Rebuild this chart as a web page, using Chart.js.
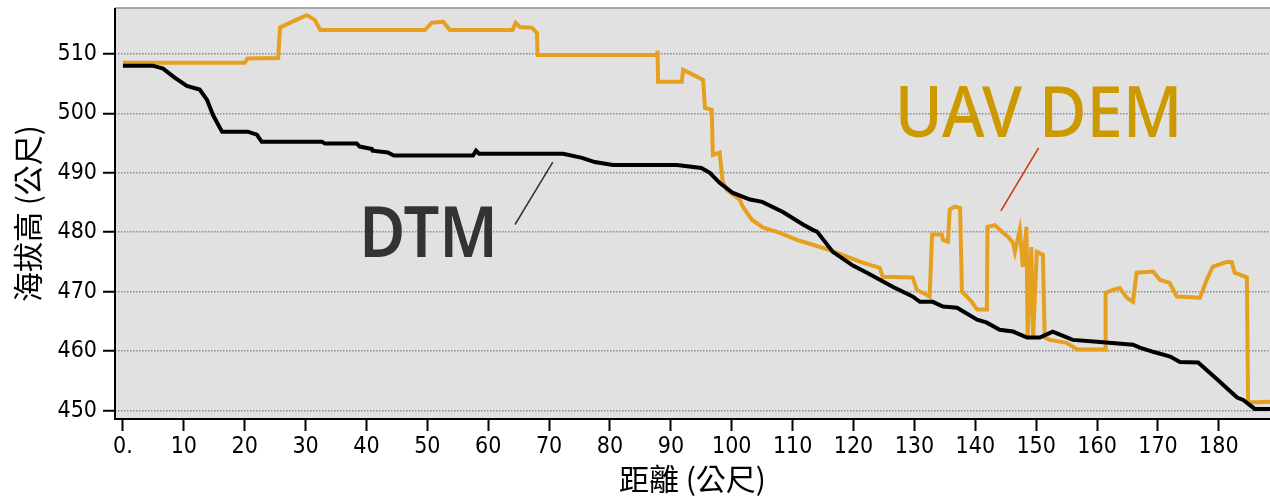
<!DOCTYPE html>
<html>
<head>
<meta charset="utf-8">
<script src="https://cdn.jsdelivr.net/npm/chart.js@4"></script>
<style>
  html, body { margin: 0; padding: 0; background: #fff; }
  #wrap { width: 1270px; height: 497px; }
</style>
</head>
<body>
<div id="wrap"><canvas id="profile"></canvas></div>
<script>
// distance (m), elevation (m)
const dtmProfile = [
  [0, 508], [4.9, 508], [6.6, 507.5], [8.5, 506], [10.5, 504.6], [12.6, 504], [13.8, 502.3],
  [14.8, 499.7], [15.9, 497.6], [16.3, 496.9], [20.5, 496.9], [22, 496.4], [22.8, 495.2],
  [32.7, 495.2], [33.2, 494.9], [38.4, 494.9], [38.9, 494.4], [40.9, 494], [41, 493.7],
  [43.5, 493.4], [44.5, 492.9], [57.5, 492.9], [58, 493.7], [58.5, 493.2], [72.3, 493.2],
  [75.4, 492.5], [77.5, 491.8], [80.5, 491.3], [91, 491.3], [95, 490.8], [96.4, 490],
  [98, 488.3], [100.2, 486.6], [103, 485.5], [105, 485.1], [108.4, 483.4], [111.7, 481.3],
  [113.3, 480.4], [114, 480.1], [116.6, 476.7], [119.9, 474.4], [122.2, 473.2], [126.5, 470.8],
  [129.7, 469.2], [130.9, 468.3], [133, 468.3], [134.7, 467.5], [137, 467.3], [140.3, 465.3],
  [141.9, 464.8], [144, 463.6], [146.2, 463.3], [148.5, 462.3], [150.6, 462.3], [152.7, 463.3],
  [153.9, 462.8], [156, 461.9], [160, 461.6], [165.9, 461.1], [167, 460.6], [169.2, 459.9],
  [172, 459.1], [173.6, 458.2], [176.6, 458.1], [179.7, 455.3], [183, 452.2], [184, 451.8],
  [185.9, 450.3], [188.4, 450.3]
];

const uavProfile = [
  [0, 508.5], [20, 508.5], [20.5, 509.2], [25.5, 509.3], [25.8, 514.4], [27.4, 515.2],
  [29.1, 516], [30.2, 516.5], [31.5, 515.7], [32.4, 514], [49.6, 514], [50.7, 515.2],
  [52.6, 515.4], [53.7, 514], [64, 514], [64.5, 515.2], [65.2, 514.5], [67.2, 514.4],
  [68, 513.5], [68.1, 509.8], [87.7, 509.8], [87.8, 510.5], [87.9, 505.3], [91.8, 505.3],
  [92, 507.3], [93.6, 506.5], [95.3, 505.6], [95.6, 500.9], [96.7, 500.6], [96.9, 493],
  [98, 493.4], [98.5, 488.5], [99.2, 487.1], [101.3, 485.5], [101.8, 484.3], [103.3, 482.1],
  [105.1, 480.8], [107.9, 479.9], [110.7, 478.7], [113.3, 477.9], [116.1, 477], [118.9, 475.9],
  [121.5, 474.9], [124.3, 474], [124.8, 472.5], [129.7, 472.4], [130.4, 470.3], [132, 469.5],
  [132.5, 469.2], [132.9, 479.6], [134.5, 479.6], [134.7, 478.7], [135.5, 478.4], [135.8, 483.8],
  [136.6, 484.3], [137.5, 484.1], [137.8, 470], [138.6, 469.2], [139.4, 468.3], [140.3, 467],
  [141.9, 467], [142, 480.9], [143.2, 481.2], [144.4, 480.1], [145.4, 479.2], [146.2, 478.2],
  [146.5, 476.7], [147.3, 480.4], [147.8, 474.2], [148.4, 480.9], [148.6, 462.4], [149.2, 477.5],
  [149.5, 462.4], [150.1, 476.7], [151.1, 476.2], [151.4, 462.3], [152.2, 461.9], [155, 461.4],
  [156.7, 460.3], [161.3, 460.3], [161.4, 469.8], [162.6, 470.3], [163.7, 470.6], [164.9, 469],
  [165.9, 468.3], [166.5, 473.2], [169.2, 473.4], [170.3, 472], [171.9, 471.5], [173.1, 469.2],
  [176.9, 469], [178, 472], [179, 474.2], [181.3, 475], [182.1, 475], [182.6, 473.2],
  [184.6, 472.4], [184.8, 451.4], [186.2, 451.4], [188.4, 451.5]
];

const xTicks = [0, 10, 20, 30, 40, 50, 60, 70, 80, 90, 100, 110, 120, 130, 140, 150, 160, 170, 180];
const yTicks = [450, 460, 470, 480, 490, 500, 510];

// callouts, placed in data units
const notes = [
  { text: 'DTM', x: 50.2, y: 475.9, color: '#333333', weight: 600, squeeze: 0.9,
    from: [64.4, 481.3], to: [70.6, 491.8], lineColor: '#333333' },
  { text: 'UAV DEM', x: 150.4, y: 496.05, color: '#cc9900', weight: 500, squeeze: 0.93,
    from: [150.4, 494.2], to: [144.2, 483.6], lineColor: '#cc3300' }
];

const toPoints = rows => rows.map(r => ({ x: r[0], y: r[1] }));

const tickFont = { family: "'DejaVu Sans Condensed', 'DejaVu Sans', sans-serif", size: 23 };
const titleFont = { family: "'Noto Sans CJK TC', sans-serif", size: 30 };

const noPad = s => {
  s.paddingTop = 0;
  s.paddingBottom = 0;
  s.paddingLeft = 0;
  s.paddingRight = 0;
};

const framePlugin = {
  id: 'frame',
  beforeDraw(chart) {
    const { ctx, chartArea: a } = chart;
    ctx.save();
    ctx.fillStyle = '#e1e1e1';
    ctx.fillRect(a.left, a.top, a.right - a.left, a.bottom - a.top);
    ctx.restore();
  },
  beforeDatasetsDraw(chart) {
    const { ctx, chartArea: a } = chart;
    ctx.save();
    ctx.strokeStyle = '#a8a8a8';
    ctx.lineWidth = 2;
    ctx.beginPath();
    ctx.moveTo(a.left, a.top);
    ctx.lineTo(a.right, a.top);
    ctx.stroke();
    ctx.strokeStyle = '#000';
    ctx.beginPath();
    ctx.moveTo(a.left, a.top);
    ctx.lineTo(a.left, a.bottom);
    ctx.lineTo(a.right, a.bottom);
    ctx.stroke();
    ctx.restore();
  },
  afterDatasetsDraw(chart) {
    const { ctx } = chart;
    const sx = chart.scales.x, sy = chart.scales.y;
    notes.forEach(n => {
      ctx.save();
      ctx.strokeStyle = n.lineColor;
      ctx.lineWidth = 1.5;
      ctx.beginPath();
      ctx.moveTo(sx.getPixelForValue(n.from[0]), sy.getPixelForValue(n.from[1]));
      ctx.lineTo(sx.getPixelForValue(n.to[0]), sy.getPixelForValue(n.to[1]));
      ctx.stroke();
      ctx.translate(sx.getPixelForValue(n.x), sy.getPixelForValue(n.y));
      ctx.scale(n.squeeze, 1);
      ctx.font = n.weight + " 70px 'Noto Sans', sans-serif";
      ctx.fillStyle = n.color;
      ctx.textAlign = 'center';
      ctx.textBaseline = 'alphabetic';
      ctx.fillText(n.text, 0, 0);
      ctx.restore();
    });
  }
};

new Chart(document.getElementById('profile'), {
  type: 'line',
  data: {
    datasets: [
      {
        label: 'DTM',
        data: toPoints(dtmProfile),
        borderColor: '#000000',
        borderWidth: 4,
        pointRadius: 0,
        tension: 0
      },
      {
        label: 'UAV DEM',
        data: toPoints(uavProfile),
        borderColor: '#e6a020',
        borderWidth: 4,
        pointRadius: 0,
        tension: 0
      }
    ]
  },
  options: {
    responsive: true,
    maintainAspectRatio: false,
    animation: false,
    layout: { padding: { top: 8, right: 0, bottom: 0, left: 0 } },
    plugins: {
      legend: { display: false },
      tooltip: { enabled: false }
    },
    scales: {
      x: {
        type: 'linear',
        min: -1.3,
        max: 188.4,
        afterBuildTicks: s => { s.ticks = xTicks.map(v => ({ value: v })); },
        afterFit: s => { s.height = 78; noPad(s); },
        ticks: {
          color: '#000',
          font: tickFont,
          padding: 2,
          maxRotation: 0,
          autoSkip: false,
          callback: v => (v === 0 ? '0.' : String(v))
        },
        grid: {
          drawOnChartArea: false,
          drawTicks: true,
          tickLength: 12,
          tickColor: '#000',
          tickWidth: 2
        },
        border: { display: false },
        title: {
          display: true,
          text: '距離 (公尺)',
          color: '#000',
          font: titleFont,
          padding: { top: 0, bottom: 0 }
        }
      },
      y: {
        min: 448.6,
        max: 517.7,
        afterBuildTicks: s => { s.ticks = yTicks.map(v => ({ value: v })); },
        afterFit: s => { s.width = 115; noPad(s); },
        ticks: {
          color: '#000',
          font: tickFont,
          padding: 6
        },
        grid: {
          color: '#8c8c8c',
          lineWidth: 1.5,
          drawTicks: true,
          tickLength: 12,
          tickColor: '#000',
          tickWidth: 2,
          tickBorderDash: []
        },
        border: { display: false, dash: [1.5, 1.5] },
        title: {
          display: true,
          text: '海拔高 (公尺)',
          color: '#000',
          font: titleFont,
          padding: { top: 10, bottom: 0 }
        }
      }
    }
  },
  plugins: [framePlugin]
});
</script>
</body>
</html>
